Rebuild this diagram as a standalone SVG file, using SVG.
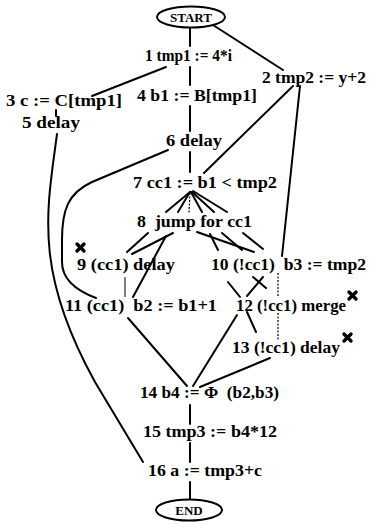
<svg xmlns="http://www.w3.org/2000/svg" width="370" height="524" viewBox="0 0 370 524">
<style>
text{font-family:"Liberation Serif","Times New Roman",serif;font-weight:bold;font-size:16.5px;fill:#000}
.term{font-size:13px}
.e{stroke:#000;stroke-width:2;fill:none;stroke-linecap:round}
.t{stroke:#000;stroke-width:1;fill:none}
.d{stroke:#000;stroke-width:1.2;fill:none;stroke-dasharray:2 1.5}
.x{stroke:#000;stroke-width:3.4;stroke-linecap:round}
</style>
<rect width="370" height="524" fill="#fff"/>
<g id="connectors">
<line class="e" x1="190" y1="28" x2="190" y2="46"/>
<line class="e" x1="213" y1="25" x2="283" y2="70"/>
<line class="e" x1="166" y1="67" x2="92" y2="96"/>
<line class="e" x1="190" y1="67" x2="190" y2="85"/>
<line class="e" x1="56" y1="110" x2="56" y2="116"/>
<path class="e" d="M57,134 C47,210 33,270 95,382 L143,462"/>
<line class="e" x1="190" y1="106" x2="190" y2="131"/>
<path class="e" d="M168,150 L92,182 C68,193 62,210 62,240 L62,262 C62,282 80,292 96,298"/>
<line class="e" x1="293" y1="86" x2="204" y2="173"/>
<line class="e" x1="300" y1="86" x2="282" y2="256"/>
<line class="e" x1="190" y1="152" x2="190" y2="172"/>
<line class="e" x1="190" y1="192" x2="166" y2="212"/>
<line class="e" x1="190" y1="192" x2="178" y2="212"/>
<line class="d" x1="190" y1="193" x2="189" y2="213"/>
<line class="e" x1="191" y1="192" x2="202" y2="212"/>
<line class="e" x1="192" y1="192" x2="214" y2="212"/>
<line class="e" x1="193" y1="191" x2="227" y2="212"/>
<line class="e" x1="148" y1="233" x2="127" y2="252"/>
<line class="e" x1="173" y1="233" x2="132" y2="254"/>
<line class="e" x1="166" y1="236" x2="133" y2="297"/>
<line class="t" x1="125" y1="277" x2="125" y2="297"/>
<line class="e" x1="197" y1="232" x2="254" y2="252"/>
<line class="e" x1="210" y1="234" x2="218" y2="250"/>
<line class="e" x1="222" y1="233" x2="242" y2="250"/>
<line class="e" x1="243" y1="233" x2="263" y2="249"/>
<line class="e" x1="228" y1="282" x2="240" y2="297"/>
<line class="e" x1="253" y1="277" x2="266" y2="288"/>
<line class="e" x1="263" y1="277" x2="247" y2="296"/>
<line class="d" x1="278" y1="273" x2="278" y2="296"/>
<line class="d" x1="278" y1="313" x2="278" y2="340"/>
<line class="e" x1="247" y1="312" x2="256" y2="332"/>
<line class="e" x1="237" y1="315" x2="193" y2="386"/>
<line class="e" x1="270" y1="358" x2="200" y2="387"/>
<line class="e" x1="128" y1="318" x2="187" y2="386"/>
<line class="e" x1="190" y1="405" x2="190" y2="424"/>
<line class="e" x1="190" y1="443" x2="190" y2="462"/>
<line class="e" x1="190" y1="482" x2="190" y2="499"/>
</g>
<g id="start"><ellipse cx="191" cy="17" rx="34" ry="10.5" fill="#fff" stroke="#000" stroke-width="2"/><text class="term" x="191" y="22" text-anchor="middle">START</text></g>
<g id="n1"><text x="145" y="61" textLength="87" lengthAdjust="spacingAndGlyphs">1 tmp1 := 4*i</text></g>
<g id="n2"><text x="262" y="83" textLength="104" lengthAdjust="spacingAndGlyphs">2 tmp2 := y+2</text></g>
<g id="n3"><text x="6" y="106" textLength="116" lengthAdjust="spacingAndGlyphs">3 c := C[tmp1]</text></g>
<g id="n4"><text x="137" y="101" textLength="120" lengthAdjust="spacingAndGlyphs">4 b1 := B[tmp1]</text></g>
<g id="n5"><text x="22" y="128" textLength="58" lengthAdjust="spacingAndGlyphs">5 delay</text></g>
<g id="n6"><text x="166" y="146" textLength="56" lengthAdjust="spacingAndGlyphs">6 delay</text></g>
<g id="n7"><text x="133" y="188" textLength="144" lengthAdjust="spacingAndGlyphs">7 cc1 := b1 &lt; tmp2</text></g>
<g id="n8"><text x="137" y="227" xml:space="preserve" textLength="115" lengthAdjust="spacingAndGlyphs">8  jump for cc1</text></g>
<g id="n9"><text x="77" y="270" textLength="98" lengthAdjust="spacingAndGlyphs">9 (cc1) delay</text><g class="x"><line x1="77" y1="244" x2="84" y2="251"/><line x1="84" y1="244" x2="77" y2="251"/></g></g>
<g id="n10"><text x="211" y="270" xml:space="preserve" textLength="155" lengthAdjust="spacingAndGlyphs">10 (!cc1)  b3 := tmp2</text></g>
<g id="n11"><text x="65" y="311" xml:space="preserve" textLength="152" lengthAdjust="spacingAndGlyphs">11 (cc1)  b2 := b1+1</text></g>
<g id="n12"><text x="236" y="311" textLength="110" lengthAdjust="spacingAndGlyphs">12 (!cc1) merge</text><g class="x"><line x1="349" y1="292" x2="356" y2="299"/><line x1="356" y1="292" x2="349" y2="299"/></g></g>
<g id="n13"><text x="232" y="353" textLength="108" lengthAdjust="spacingAndGlyphs">13 (!cc1) delay</text><g class="x"><line x1="344" y1="334" x2="351" y2="341"/><line x1="351" y1="334" x2="344" y2="341"/></g></g>
<g id="n14"><text x="140" y="398" xml:space="preserve" textLength="139" lengthAdjust="spacingAndGlyphs">14 b4 := Φ  (b2,b3)</text></g>
<g id="n15"><text x="143" y="437" textLength="134" lengthAdjust="spacingAndGlyphs">15 tmp3 := b4*12</text></g>
<g id="n16"><text x="148" y="476" textLength="114" lengthAdjust="spacingAndGlyphs">16 a := tmp3+c</text></g>
<g id="end"><ellipse cx="189" cy="510" rx="33" ry="10.5" fill="#fff" stroke="#000" stroke-width="2"/><text class="term" x="189" y="515" text-anchor="middle">END</text></g>
</svg>
